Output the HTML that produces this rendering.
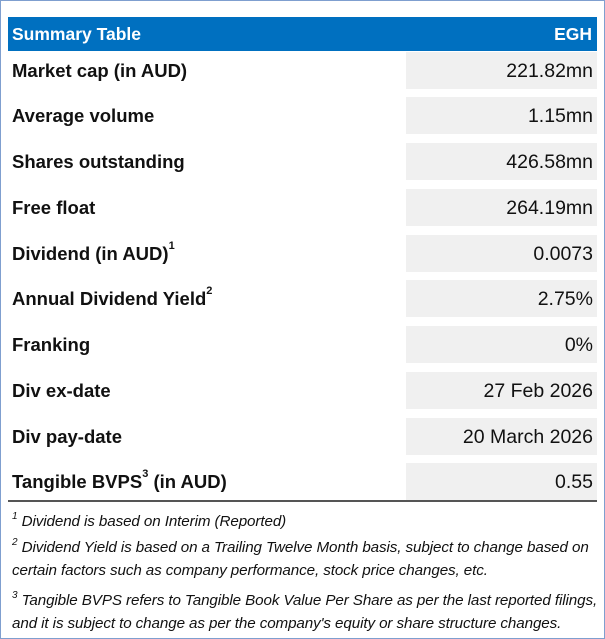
<!DOCTYPE html>
<html><head><meta charset="utf-8"><style>
body{margin:0;width:605px;height:639px;background:#fff;position:relative;overflow:hidden;font-family:"Liberation Sans",Arial,sans-serif}
.frame{position:absolute;left:0;top:0;width:603px;height:637px;border:1px solid #7f9fcf}
.hdr{position:absolute;left:8px;top:17px;width:589px;height:34px;background:#0070c0;color:#fff;font-weight:bold;font-size:17.5px}
.hdr span{position:absolute;top:7px}
.row{position:absolute;left:8px;width:589px;height:37px}
.row .l{position:absolute;left:4px;top:8px;font-weight:bold;font-size:18.5px;color:#111;white-space:nowrap}
.row .v{position:absolute;left:398px;top:0;width:191px;height:37px;background:#f0f0f0}
.row .v span{position:absolute;right:4px;top:8px;font-size:19.5px;color:#111}
sup{font-size:11px;vertical-align:top;position:relative;top:-3px}
.line{position:absolute;left:8px;top:500px;width:589px;height:2px;background:#555}
.fn{position:absolute;left:12px;font-style:italic;font-size:15.2px;color:#111;white-space:nowrap;letter-spacing:-0.1px}
.fn sup{font-size:10px;top:-2px}
</style></head><body>
<div class="frame"></div>
<div class="hdr"><span style="left:4px">Summary Table</span><span style="right:5px">EGH</span></div>
<div class="row" style="top:52px"><div class="l">Market cap (in AUD)</div><div class="v"><span>221.82mn</span></div></div>
<div class="row" style="top:97px"><div class="l">Average volume</div><div class="v"><span>1.15mn</span></div></div>
<div class="row" style="top:143px"><div class="l">Shares outstanding</div><div class="v"><span>426.58mn</span></div></div>
<div class="row" style="top:189px"><div class="l">Free float</div><div class="v"><span>264.19mn</span></div></div>
<div class="row" style="top:235px"><div class="l">Dividend (in AUD)<sup>1</sup></div><div class="v"><span>0.0073</span></div></div>
<div class="row" style="top:280px"><div class="l">Annual Dividend Yield<sup>2</sup></div><div class="v"><span>2.75%</span></div></div>
<div class="row" style="top:326px"><div class="l">Franking</div><div class="v"><span>0%</span></div></div>
<div class="row" style="top:372px"><div class="l">Div ex-date</div><div class="v"><span>27 Feb 2026</span></div></div>
<div class="row" style="top:418px"><div class="l">Div pay-date</div><div class="v"><span>20 March 2026</span></div></div>
<div class="row" style="top:463px"><div class="l">Tangible BVPS<sup>3</sup> (in AUD)</div><div class="v"><span>0.55</span></div></div>
<div class="line"></div>
<div class="fn" style="top:513px"><sup>1</sup> Dividend is based on Interim (Reported)</div>
<div class="fn" style="top:539px"><sup>2</sup> Dividend Yield is based on a Trailing Twelve Month basis, subject to change based on</div>
<div class="fn" style="top:562px">certain factors such as company performance, stock price changes, etc.</div>
<div class="fn" style="top:592px"><sup>3</sup> Tangible BVPS refers to Tangible Book Value Per Share as per the last reported filings,</div>
<div class="fn" style="top:615px">and it is subject to change as per the company's equity or share structure changes.</div>
</body></html>
